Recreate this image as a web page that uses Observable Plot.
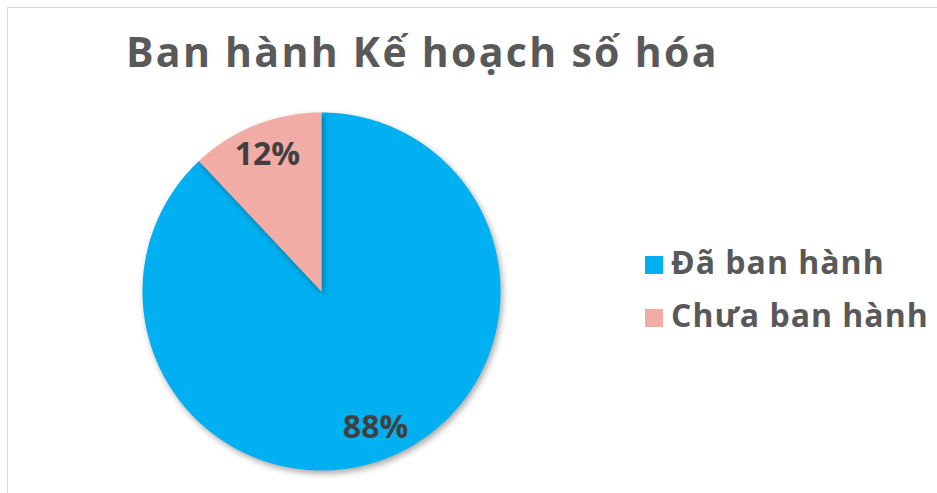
<!DOCTYPE html>
<html><head><meta charset="utf-8">
<script src="https://cdn.jsdelivr.net/npm/d3@7"></script>
<script src="https://cdn.jsdelivr.net/npm/@observablehq/plot@0.6"></script>
<style>
body{margin:0;overflow:hidden;background:#fff;}
#wrap{position:relative;width:937px;height:493px;overflow:hidden;font-family:"Open Sans",sans-serif;}
#border{position:absolute;left:7px;top:7px;width:960px;height:520px;border:1.5px solid #d9d9d9;box-sizing:border-box;}
#title{position:absolute;left:126px;top:31px;font-size:41px;line-height:41px;letter-spacing:2.3px;font-weight:700;color:#595959;white-space:nowrap;}
.leg{position:absolute;left:645px;font-size:32px;line-height:32px;letter-spacing:1px;font-weight:700;color:#595959;white-space:nowrap;}
.sw{display:inline-block;width:18px;height:18px;margin-right:8px;vertical-align:0px;}
#chart{position:absolute;left:0;top:0;}
#chart path{filter:drop-shadow(2px 3px 3px rgba(0,0,0,0.35));}
</style></head>
<body><div id="wrap"><div id="border"></div><div id="title"></div><div id="chart"></div></div>
<script>
const titleText = "Ban hành Kế hoạch số hóa";
const categories = ["Đã ban hành", "Chưa ban hành"];
const values = [88, 12];
const labels = ["88%", "12%"];
const colors = ["#00B0F0", "#F2ACA6"];

document.getElementById("title").textContent = titleText;

// slice outlines in unit coordinates from d3.pie angles
const pie = d3.pie().sort(null).value(d => d.value)(categories.map((c, i) => ({cat: c, value: values[i], label: labels[i]})));
const pts = [];
pie.forEach(a => {
  pts.push({cat: a.data.cat, x: 0, y: 0});
  const n = Math.max(2, Math.ceil((a.endAngle - a.startAngle) / 0.004));
  for (let k = 0; k <= n; k++) {
    const t = a.startAngle + (a.endAngle - a.startAngle) * k / n;
    pts.push({cat: a.data.cat, x: Math.sin(t), y: Math.cos(t)});
  }
  pts.push({cat: a.data.cat, x: 0, y: 0});
});
const lab = pie.map(a => {
  const m = (a.startAngle + a.endAngle) / 2;
  return {label: a.data.label, x: 0.82 * Math.sin(m), y: 0.82 * Math.cos(m)};
});

const plot = Plot.plot({
  width: 937, height: 493, margin: 0,
  x: {domain: [-1, 1], range: [142, 500], axis: null},
  y: {domain: [-1, 1], range: [470, 112], axis: null},
  color: {domain: categories, range: colors},
  marks: [
    Plot.line(pts, {x: "x", y: "y", z: "cat", fill: "cat", stroke: null, curve: "linear"}),
    Plot.text(lab, {x: "x", y: "y", text: "label", fontSize: 32, fontWeight: 700, fill: "#404040", fontFamily: "Open Sans"})
  ]
});
document.getElementById("chart").appendChild(plot);

const wrap = document.getElementById("wrap");
const tops = [246, 299];
categories.forEach((c, i) => {
  const d = document.createElement("div");
  d.className = "leg";
  d.style.top = tops[i] + "px";
  const s = document.createElement("span");
  s.className = "sw";
  s.style.background = plot.scale("color").apply(c);
  d.appendChild(s);
  d.appendChild(document.createTextNode(c));
  wrap.appendChild(d);
});
</script></body></html>
